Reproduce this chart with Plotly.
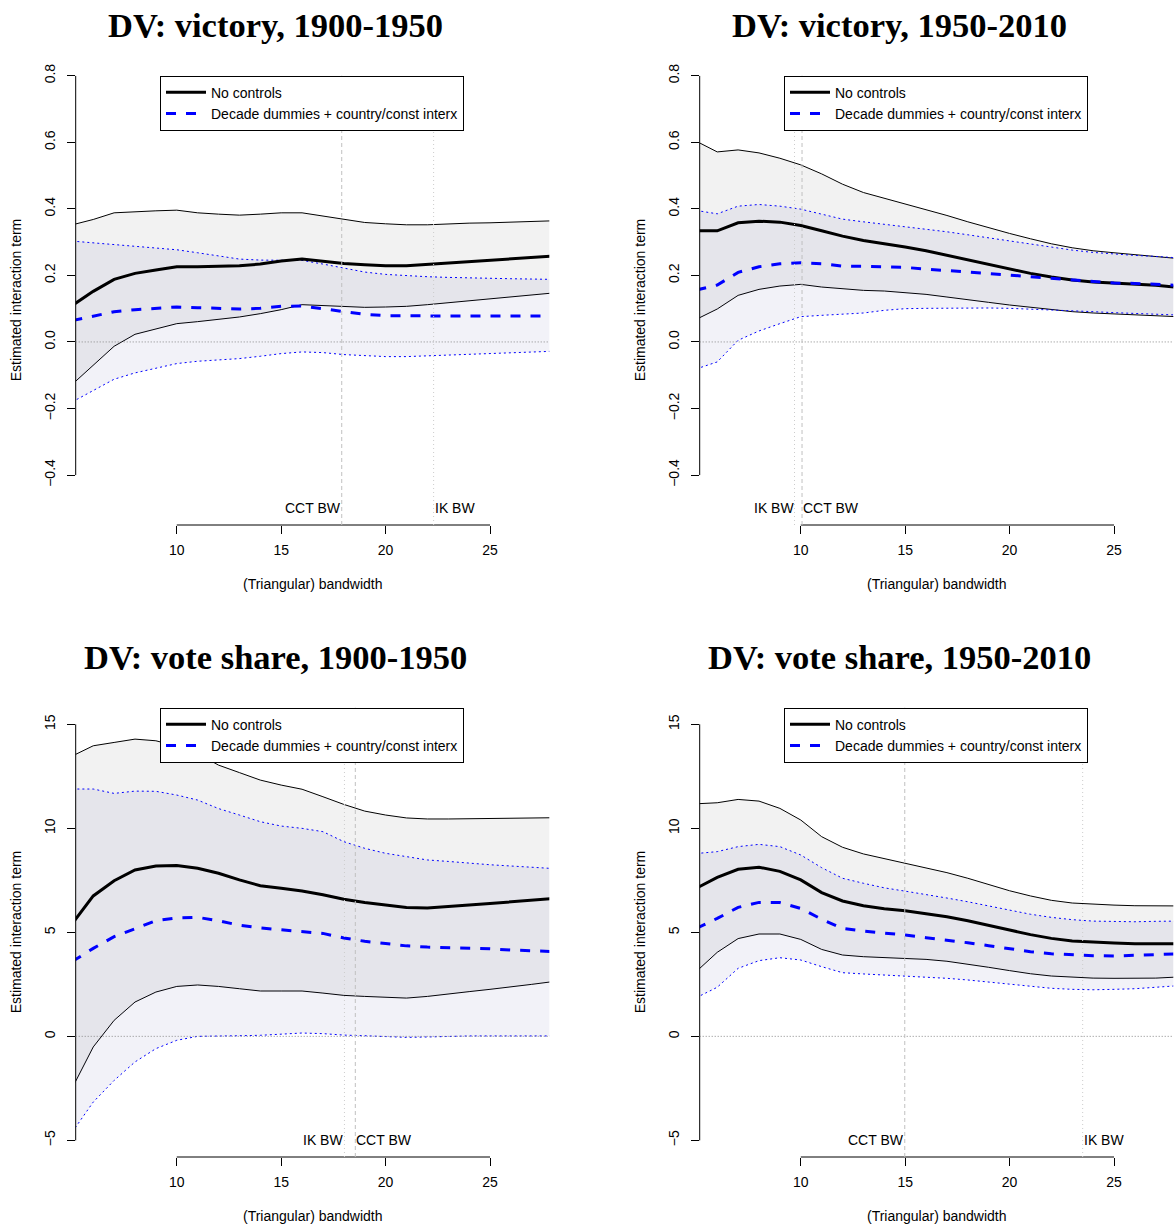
import plotly.graph_objects as go

# ---------------- data ----------------
bandwidth = list(range(5, 29))

# Panel 1: DV victory, 1900-1950
v1900_nc_upper = [0.352, 0.368, 0.388, 0.392, 0.394, 0.396, 0.388, 0.384, 0.381, 0.384, 0.388, 0.388,
                  0.379, 0.368, 0.359, 0.355, 0.352, 0.352, 0.355, 0.357, 0.358, 0.360, 0.362, 0.364]
v1900_nc_est = [0.110, 0.152, 0.188, 0.206, 0.216, 0.226, 0.226, 0.227, 0.229, 0.234, 0.243, 0.249,
                0.242, 0.236, 0.232, 0.229, 0.229, 0.233, 0.238, 0.243, 0.247, 0.250, 0.254, 0.258]
v1900_nc_lower = [-0.127, -0.070, -0.013, 0.023, 0.040, 0.055, 0.061, 0.068, 0.075, 0.085, 0.097, 0.112,
                  0.109, 0.105, 0.104, 0.105, 0.107, 0.112, 0.118, 0.124, 0.130, 0.137, 0.141, 0.147]
v1900_dd_upper = [0.303, 0.298, 0.294, 0.288, 0.283, 0.277, 0.268, 0.258, 0.249, 0.246, 0.245, 0.245,
                  0.234, 0.221, 0.210, 0.203, 0.199, 0.196, 0.194, 0.192, 0.191, 0.190, 0.189, 0.188]
v1900_dd_est = [0.064, 0.078, 0.091, 0.097, 0.102, 0.105, 0.103, 0.100, 0.099, 0.101, 0.107, 0.108,
                0.100, 0.090, 0.083, 0.079, 0.078, 0.078, 0.078, 0.078, 0.078, 0.078, 0.078, 0.078]
v1900_dd_lower = [-0.180, -0.145, -0.112, -0.093, -0.078, -0.065, -0.058, -0.055, -0.050, -0.043, -0.035, -0.030,
                  -0.032, -0.038, -0.042, -0.044, -0.044, -0.042, -0.039, -0.037, -0.035, -0.033, -0.030, -0.028]

# Panel 2: DV victory, 1950-2010
v1950_nc_upper = [0.603, 0.571, 0.577, 0.568, 0.552, 0.532, 0.505, 0.474, 0.449, 0.432, 0.414, 0.398,
                  0.380, 0.361, 0.343, 0.326, 0.310, 0.295, 0.283, 0.274, 0.268, 0.262, 0.256, 0.251]
v1950_nc_est = [0.334, 0.334, 0.358, 0.363, 0.360, 0.350, 0.334, 0.318, 0.305, 0.296, 0.285, 0.274,
                0.260, 0.246, 0.232, 0.219, 0.206, 0.195, 0.186, 0.180, 0.177, 0.174, 0.170, 0.164]
v1950_nc_lower = [0.068, 0.099, 0.140, 0.158, 0.168, 0.173, 0.165, 0.159, 0.155, 0.153, 0.148, 0.143,
                  0.135, 0.128, 0.119, 0.111, 0.104, 0.097, 0.091, 0.087, 0.084, 0.081, 0.078, 0.076]
v1950_dd_upper = [0.395, 0.385, 0.408, 0.413, 0.408, 0.399, 0.384, 0.369, 0.361, 0.354, 0.346, 0.340,
                  0.331, 0.322, 0.313, 0.304, 0.294, 0.284, 0.276, 0.269, 0.264, 0.260, 0.257, 0.253]
v1950_dd_est = [0.156, 0.171, 0.209, 0.226, 0.235, 0.238, 0.235, 0.228, 0.227, 0.226, 0.224, 0.219,
                0.215, 0.211, 0.206, 0.201, 0.196, 0.191, 0.186, 0.180, 0.177, 0.176, 0.174, 0.170]
v1950_dd_lower = [-0.081, -0.060, 0.005, 0.033, 0.055, 0.076, 0.080, 0.083, 0.087, 0.095, 0.100, 0.101,
                  0.102, 0.102, 0.102, 0.101, 0.099, 0.097, 0.095, 0.091, 0.088, 0.085, 0.083, 0.081]

# Panel 3: DV vote share, 1900-1950
s1900_nc_upper = [13.48, 13.97, 14.13, 14.29, 14.21, 13.95, 13.60, 13.04, 12.68, 12.32, 12.08, 11.88,
                  11.52, 11.15, 10.83, 10.64, 10.50, 10.45, 10.45, 10.46, 10.48, 10.48, 10.50, 10.51]
s1900_nc_est = [5.42, 6.75, 7.48, 8.00, 8.19, 8.21, 8.08, 7.84, 7.52, 7.24, 7.12, 6.99,
                6.81, 6.59, 6.44, 6.33, 6.20, 6.17, 6.23, 6.31, 6.39, 6.46, 6.52, 6.62]
s1900_nc_lower = [-2.47, -0.51, 0.77, 1.65, 2.13, 2.40, 2.47, 2.40, 2.29, 2.18, 2.18, 2.18,
                  2.08, 1.97, 1.92, 1.89, 1.84, 1.92, 2.05, 2.15, 2.26, 2.37, 2.50, 2.63]
s1900_dd_upper = [11.89, 11.89, 11.68, 11.79, 11.78, 11.60, 11.36, 10.95, 10.64, 10.32, 10.11, 10.00,
                  9.84, 9.36, 9.04, 8.80, 8.64, 8.48, 8.41, 8.32, 8.25, 8.19, 8.13, 8.07]
s1900_dd_est = [3.60, 4.23, 4.79, 5.19, 5.56, 5.69, 5.72, 5.56, 5.34, 5.21, 5.12, 5.05,
                4.95, 4.73, 4.57, 4.46, 4.35, 4.29, 4.27, 4.25, 4.21, 4.15, 4.12, 4.08]
s1900_dd_lower = [-4.59, -3.16, -2.12, -1.23, -0.59, -0.19, 0.00, 0.03, 0.03, 0.05, 0.10, 0.16,
                  0.13, 0.06, 0.03, 0.00, -0.05, -0.03, 0.00, 0.02, 0.02, 0.02, 0.02, 0.02]

# Panel 4: DV vote share, 1950-2010
s1950_nc_upper = [11.18, 11.23, 11.39, 11.31, 10.96, 10.40, 9.60, 9.09, 8.77, 8.54, 8.32, 8.11,
                  7.87, 7.60, 7.31, 7.00, 6.75, 6.54, 6.41, 6.35, 6.31, 6.28, 6.27, 6.27]
s1950_nc_est = [7.12, 7.64, 8.03, 8.13, 7.93, 7.52, 6.91, 6.51, 6.28, 6.14, 6.04, 5.91,
                5.75, 5.56, 5.35, 5.11, 4.89, 4.71, 4.58, 4.52, 4.49, 4.45, 4.45, 4.45]
s1950_nc_lower = [3.12, 4.04, 4.70, 4.92, 4.92, 4.66, 4.18, 3.91, 3.83, 3.78, 3.75, 3.70,
                  3.61, 3.48, 3.32, 3.16, 3.01, 2.90, 2.84, 2.80, 2.79, 2.79, 2.80, 2.85]
s1950_dd_upper = [8.79, 8.88, 9.12, 9.23, 9.12, 8.72, 8.11, 7.60, 7.36, 7.14, 6.98, 6.83,
                  6.65, 6.47, 6.28, 6.07, 5.87, 5.72, 5.61, 5.54, 5.51, 5.51, 5.53, 5.54]
s1950_dd_est = [5.19, 5.67, 6.20, 6.44, 6.43, 6.15, 5.63, 5.19, 5.06, 4.97, 4.87, 4.74,
                4.63, 4.50, 4.36, 4.21, 4.07, 3.97, 3.91, 3.88, 3.86, 3.88, 3.93, 3.97]
s1950_dd_lower = [1.86, 2.36, 3.27, 3.64, 3.78, 3.67, 3.35, 3.06, 3.00, 2.95, 2.91, 2.87,
                  2.79, 2.71, 2.61, 2.50, 2.39, 2.31, 2.26, 2.24, 2.26, 2.29, 2.36, 2.43]

panel_titles = ["DV: victory, 1900-1950", "DV: victory, 1950-2010",
                "DV: vote share, 1900-1950", "DV: vote share, 1950-2010"]
legend_labels = ["No controls", "Decade dummies + country/const interx"]
x_tickvals = [10, 15, 20, 25]
y_tickvals_victory = [-0.4, -0.2, 0.0, 0.2, 0.4, 0.6, 0.8]
y_tickvals_share = [-5, 0, 5, 10, 15]
# optimal bandwidths per panel
cct_bw = [17.9, 10.06, 18.55, 14.98]
ik_bw = [22.3, 9.7, 18.03, 23.5]

panels = [
    (v1900_nc_upper, v1900_nc_est, v1900_nc_lower, v1900_dd_upper, v1900_dd_est, v1900_dd_lower),
    (v1950_nc_upper, v1950_nc_est, v1950_nc_lower, v1950_dd_upper, v1950_dd_est, v1950_dd_lower),
    (s1900_nc_upper, s1900_nc_est, s1900_nc_lower, s1900_dd_upper, s1900_dd_est, s1900_dd_lower),
    (s1950_nc_upper, s1950_nc_est, s1950_nc_lower, s1950_dd_upper, s1950_dd_est, s1950_dd_lower),
]

# ---------------- layout geometry ----------------
W, H = 1174, 1225
FONT = "Liberation Sans, Arial, Helvetica, sans-serif"
xdom_left = [75.7 / W, 549.3 / W]
xdom_right = [699.7 / W, 1173.3 / W]
ydom_top = [1 - 525.0 / H, 1 - 75.7 / H]
ydom_bot = [1 - 1157.0 / H, 1 - 707.7 / H]
domains = [(xdom_left, ydom_top), (xdom_right, ydom_top), (xdom_left, ydom_bot), (xdom_right, ydom_bot)]
yranges = [[-0.55, 0.80], [-0.55, 0.80], [-5.8, 15.8], [-5.8, 15.8]]
yticks = [y_tickvals_victory, y_tickvals_victory, y_tickvals_share, y_tickvals_share]
ytickfmt = [".1f", ".1f", "d", "d"]
title_pos = [(275 / W, 1 - 25 / H), (899.5 / W, 1 - 25 / H),
             (275 / W, 1 - 657 / H), (899.5 / W, 1 - 657 / H)]
legend_pos = [(160 / W, 1 - 75.7 / H), (784 / W, 1 - 75.7 / H),
              (160 / W, 1 - 707.7 / H), (784 / W, 1 - 707.7 / H)]
label_side = [("right", "left"), ("left", "right"), ("left", "right"), ("right", "left")]

BLACK_FILL = "rgba(0,0,0,0.05)"
BLUE_FILL = "rgba(40,40,140,0.06)"
BLUE = "#0000ff"

fig = go.Figure()
shapes = []
annotations = []
layout = dict(width=W, height=H, margin=dict(l=0, r=0, t=0, b=0, autoexpand=False),
              paper_bgcolor="white", plot_bgcolor="rgba(0,0,0,0)", showlegend=True,
              font=dict(family=FONT, size=14, color="black"))

for i, (nc_up, nc_est, nc_lo, dd_up, dd_est, dd_lo) in enumerate(panels):
    k = i + 1
    xa = "x" if k == 1 else f"x{k}"
    ya = "y" if k == 1 else f"y{k}"
    leg = "legend" if k == 1 else f"legend{k}"
    common = dict(x=bandwidth, xaxis=xa, yaxis=ya, mode="lines", hoverinfo="skip")

    fig.add_trace(go.Scatter(y=nc_lo, line=dict(color="black", width=1), showlegend=False, legend=leg, **common))
    fig.add_trace(go.Scatter(y=nc_up, line=dict(color="black", width=1), fill="tonexty",
                             fillcolor=BLACK_FILL, showlegend=False, legend=leg, **common))
    fig.add_trace(go.Scatter(y=dd_lo, line=dict(color=BLUE, width=1, dash="2px,3px"),
                             showlegend=False, legend=leg, **common))
    fig.add_trace(go.Scatter(y=dd_up, line=dict(color=BLUE, width=1, dash="2px,3px"), fill="tonexty",
                             fillcolor=BLUE_FILL, showlegend=False, legend=leg, **common))
    fig.add_trace(go.Scatter(y=nc_est, line=dict(color="black", width=3), name=legend_labels[0],
                             legend=leg, showlegend=True, **common))
    fig.add_trace(go.Scatter(y=dd_est, line=dict(color=BLUE, width=3, dash="10px,10px"),
                             name=legend_labels[1], legend=leg, showlegend=True, **common))

    xdom, ydom = domains[i]
    axis_font = dict(family=FONT, size=14, color="black")
    layout["xaxis" if k == 1 else f"xaxis{k}"] = dict(
        domain=xdom, range=[5.16, 27.84], anchor=ya, tickmode="array", tickvals=x_tickvals,
        ticks="outside", ticklen=8, tickwidth=1, tickcolor="black", showline=False,
        showgrid=False, zeroline=False, tickfont=axis_font, ticklabelstandoff=4, automargin=False)
    layout["yaxis" if k == 1 else f"yaxis{k}"] = dict(
        domain=ydom, range=yranges[i], anchor=xa, tickmode="array", tickvals=yticks[i],
        tickformat=ytickfmt[i], tickangle=-90, ticks="outside", ticklen=8, tickwidth=1,
        tickcolor="black", showline=False, showgrid=False, zeroline=False, tickfont=axis_font,
        ticklabelstandoff=6, automargin=False)

    # axis lines spanning only the tick range
    shapes.append(dict(type="line", xref=xa, yref=f"{ya} domain", x0=x_tickvals[0], x1=x_tickvals[-1],
                       y0=0, y1=0, line=dict(color="black", width=1), layer="above"))
    shapes.append(dict(type="line", xref=f"{xa} domain", yref=ya, x0=0, x1=0,
                       y0=yticks[i][0], y1=yticks[i][-1], line=dict(color="black", width=1), layer="above"))
    # zero reference line
    shapes.append(dict(type="line", xref=f"{xa} domain", yref=ya, x0=0, x1=1, y0=0, y1=0,
                       line=dict(color="#888888", width=1, dash="1px,2px"), layer="above"))
    # bandwidth markers
    shapes.append(dict(type="line", xref=xa, yref=f"{ya} domain", x0=cct_bw[i], x1=cct_bw[i], y0=0, y1=1,
                       line=dict(color="#c0c0c0", width=1, dash="4px,3px"), layer="above"))
    shapes.append(dict(type="line", xref=xa, yref=f"{ya} domain", x0=ik_bw[i], x1=ik_bw[i], y0=0, y1=1,
                       line=dict(color="#cccccc", width=1, dash="1px,3px"), layer="above"))

    cct_anchor, ik_anchor = label_side[i]
    annotations.append(dict(text="CCT BW", xref=xa, yref=f"{ya} domain", x=cct_bw[i], y=0.037,
                            xanchor=cct_anchor, yanchor="middle", showarrow=False, font=axis_font,
                            borderpad=0))
    annotations.append(dict(text="IK BW", xref=xa, yref=f"{ya} domain", x=ik_bw[i], y=0.037,
                            xanchor=ik_anchor, yanchor="middle", showarrow=False, font=axis_font,
                            borderpad=0))
    annotations.append(dict(text="(Triangular) bandwidth", xref=f"{xa} domain", yref=f"{ya} domain",
                            x=0.5, y=-59 / 449.3, xanchor="center", yanchor="middle",
                            showarrow=False, font=axis_font))
    annotations.append(dict(text="Estimated interaction term", xref=f"{xa} domain", yref=f"{ya} domain",
                            x=-(75.7 - 16) / 473.6, y=0.5, xanchor="center", yanchor="middle",
                            textangle=-90, showarrow=False, font=axis_font))
    tx, ty = title_pos[i]
    annotations.append(dict(text=f"<b>{panel_titles[i]}</b>", xref="paper", yref="paper", x=tx, y=ty,
                            xanchor="center", yanchor="middle", showarrow=False,
                            font=dict(family="Liberation Serif, Times New Roman, serif", size=34.5,
                                      color="black")))
    lx, ly = legend_pos[i]
    layout[leg] = dict(x=lx, y=ly, xanchor="left", yanchor="top", xref="paper", yref="paper",
                       bgcolor="white", bordercolor="black", borderwidth=1, traceorder="normal",
                       font=dict(family=FONT, size=14, color="black"),
                       tracegroupgap=0, itemwidth=40)

layout["shapes"] = shapes
layout["annotations"] = annotations
fig.update_layout(**layout)
fig.write_html("out.html")
